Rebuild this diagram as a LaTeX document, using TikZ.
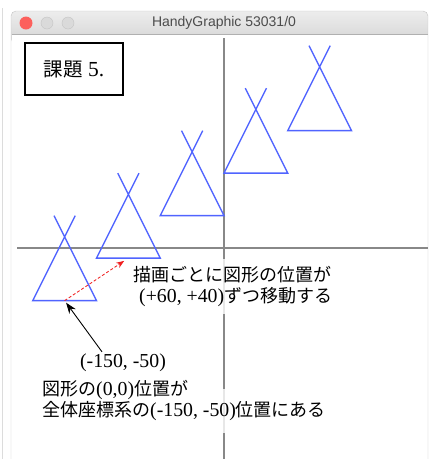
\documentclass[tikz,border=0pt]{standalone}
\usepackage{fontspec}
\setmainfont{Liberation Serif}[Scale=1.1]
\newfontfamily\jpfont{Noto Sans CJK JP}
\newfontfamily\uifont{Liberation Sans}
\usepackage{xcolor}
\usetikzlibrary{arrows.meta,positioning}
\definecolor{cShape}{HTML}{5064FF}
\definecolor{cAxis}{HTML}{888888}
\definecolor{cMove}{HTML}{F01E1E}
\definecolor{cBarTop}{HTML}{EDEDED}
\definecolor{cBarBot}{HTML}{D4D4D4}
\definecolor{cFrame}{HTML}{C4C4C4}
\definecolor{cClose}{HTML}{FC605C}
\definecolor{cIdle}{HTML}{DADADA}
\newcommand{\jp}[1]{{\jpfont #1}}
\tikzset{
  axis/.style   ={cAxis,line width=2pt},
  tri/.style    ={cShape,line width=1.4pt},
  move/.style   ={-{Stealth[length=8pt,width=6pt]},cMove,densely dashed,line width=0.8pt,shorten >=5pt},
  pointer/.style={-{Stealth[length=11pt,width=8pt]},black,line width=0.9pt,shorten >=2.5pt},
  note/.style   ={font=\fontsize{18}{21}\selectfont,inner sep=0pt,align=left},
  veil/.style   ={fill=white,fill opacity=0.8,text opacity=1},
}

\begin{document}
\begin{tikzpicture}[x=1pt,y=-1pt]
  \useasboundingbox (0,0) rectangle (429,459);
  % window frame
  \draw[cFrame!60] (2.5,8) -- (2.5,459);
  \shade[top color=cBarTop,bottom color=cBarBot,rounded corners=5pt] (11,11) rectangle (428,44);
  \fill[white] (11.5,34.5) rectangle (427.5,470);
  \draw[cFrame,rounded corners=5pt] (11,470) rectangle (428,11);
  \draw[cFrame!90!black] (11.5,34.5) -- (427.5,34.5);
  \fill[cClose] (26,23) circle (6.5pt);
  \foreach \bx in {47,68}
    \draw[cFrame,fill=cIdle] (\bx,23) circle (6pt);
  \node[font=\uifont\fontsize{14}{16}\selectfont,text=black!70] (title) at (224,22.5) {HandyGraphic 53031/0};

  \node[draw,line width=1.3pt,minimum width=98pt,minimum height=52pt,
        font=\fontsize{19.5}{22}\selectfont] (task) at (74,69) {\jp{課題} 5.};

  % axes
  \coordinate (origin) at (224,247.5);
  \draw[axis] (17,247.5) -- (428,247.5);
  \draw[axis] (224,38) -- (224,470);

  % shape drawn five times
  \begin{scope}[shift={(origin)},x=1.0625pt,y=1.0625pt]
    \foreach \k [evaluate=\k as \ox using -150+60*\k,
                 evaluate=\k as \oy using -50+40*\k] in {0,...,4}{
      \coordinate (p\k) at (\ox,\oy);
      \draw[tri,shift={(\ox,\oy)}] (-10,80) -- (30,0) -- (-30,0) -- (10,80);
    }
  \end{scope}

  \draw[move] (p0) -- (p1);

  \node[note,veil,anchor=west,inner xsep=3pt,inner ysep=7pt] (stepnote) at (130,286.5)
    {\jp{描画ごとに図形の位置が}\\\hspace*{6pt}(+60, +40)\jp{ずつ移動する}};

  \node[note] (startlbl) at (123,363) {(-150, -50)};
  \draw[pointer] (startlbl.north) ++(-21,-2) -- (p0);

  \node[note,veil,anchor=west,inner xsep=2pt,inner ysep=12pt] (wherefull) at (40,411)
    {\jp{全体座標系の}(-150, -50)\jp{位置にある}};
  \node[note,anchor=west] (where) at (42,390) {\jp{図形の}(0,0)\jp{位置が}};
\end{tikzpicture}
\end{document}
